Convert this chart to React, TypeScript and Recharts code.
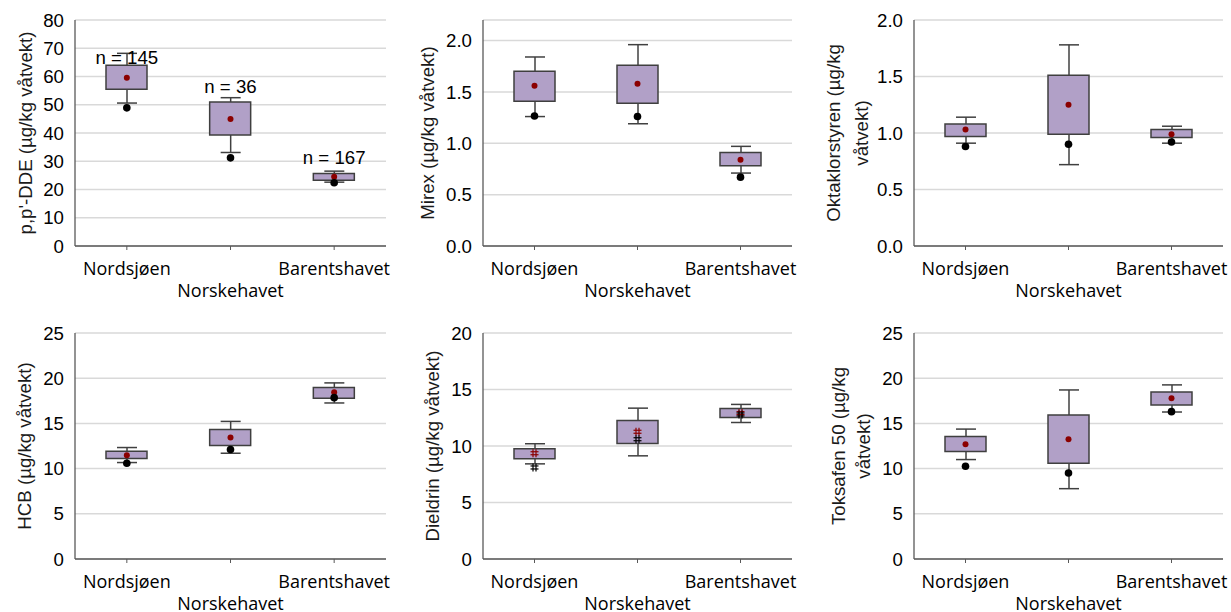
import React from 'react'
import { ComposedChart, XAxis, YAxis, CartesianGrid, Bar, Scatter } from 'recharts'

const regions = ['Nordsjøen', 'Norskehavet', 'Barentshavet']

// [nedre whisker, Q1, Q3, øvre whisker] per havområde
const ddeBox = [[50.6, 55.5, 64.0, 68.2], [33.1, 39.3, 51.0, 52.5], [22.6, 23.3, 25.7, 26.5]]
const ddeMean = [59.6, 45.0, 24.5]
const ddeDot = [48.9, 31.2, 22.4]
const ddeN = [145, 36, 167]
const ddeNAt = [66.8, 56.3, 31.3]

const mirexBox = [[1.26, 1.41, 1.70, 1.84], [1.19, 1.39, 1.76, 1.96], [0.71, 0.78, 0.91, 0.97]]
const mirexMean = [1.56, 1.58, 0.84]
const mirexDot = [1.265, 1.26, 0.67]

const oktaBox = [[0.91, 0.97, 1.08, 1.14], [0.72, 0.99, 1.51, 1.78], [0.91, 0.96, 1.03, 1.06]]
const oktaMean = [1.03, 1.25, 0.99]
const oktaDot = [0.88, 0.90, 0.92]

const hcbBox = [[10.67, 11.11, 11.92, 12.33], [11.7, 12.55, 14.33, 15.22], [17.26, 17.78, 18.96, 19.48]]
const hcbMean = [11.48, 13.44, 18.44]
const hcbDot = [10.59, 12.11, 17.85]

const dieldrinBox = [[8.42, 8.87, 9.75, 10.2], [9.13, 10.22, 12.26, 13.35], [12.08, 12.53, 13.32, 13.68]]
const dieldrinMean = [9.36, 11.26, 12.91]
const dieldrinDot = [8.1, 10.6, 12.79]

const toksBox = [[11.0, 11.89, 13.56, 14.37], [7.78, 10.59, 15.93, 18.7], [16.26, 17.04, 18.48, 19.26]]
const toksMean = [12.7, 13.26, 17.78]
const toksDot = [10.26, 9.52, 16.3]

const ticks80 = [0, 10, 20, 30, 40, 50, 60, 70, 80]
const ticks2 = [0, 0.5, 1.0, 1.5, 2.0]
const ticks25 = [0, 5, 10, 15, 20, 25]
const ticks20 = [0, 5, 10, 15, 20]

const ARIAL = '"Liberation Sans", Arial, sans-serif'
const UI = '"Open Sans", "Noto Sans", sans-serif'
const FRAME = '#595959'

const makeRows = (box: number[][], mean: number[], dot: number[], n?: number[], nAt?: number[]) =>
  regions.map((cat, i) => ({
    cat,
    whisk: [box[i][0], box[i][3]],
    box: [box[i][1], box[i][2]],
    mean: mean[i],
    dot: dot[i],
    n: n ? n[i] : undefined,
    nAt: nAt ? nAt[i] : undefined,
  }))

const Whisker = (p: any) => {
  const top = Math.min(p.y, p.y + p.height)
  const bot = Math.max(p.y, p.y + p.height)
  const cx = p.x + p.width / 2
  return (
    <g stroke="#404040" strokeWidth={1.5}>
      <line x1={cx} x2={cx} y1={top} y2={bot} />
      <line x1={p.x} x2={p.x + p.width} y1={top} y2={top} />
      <line x1={p.x} x2={p.x + p.width} y1={bot} y2={bot} />
    </g>
  )
}

const Hash = ({ cx, cy, color }: any) => (
  <g stroke={color} strokeWidth={1.2}>
    <line x1={cx - 4} x2={cx + 4} y1={cy - 1.5} y2={cy - 1.5} />
    <line x1={cx - 4} x2={cx + 4} y1={cy + 1.5} y2={cy + 1.5} />
    <line x1={cx - 1.5} x2={cx - 1.5} y1={cy - 4} y2={cy + 4} />
    <line x1={cx + 1.5} x2={cx + 1.5} y1={cy - 4} y2={cy + 4} />
  </g>
)

const RegionTick = (p: any) => (
  <text x={p.x} y={p.y + (p.index === 1 ? 40 : 18)} textAnchor="middle" dominantBaseline="central"
        fontFamily={UI} fontSize={18} fill="#000">{p.payload.value}</text>
)

type PanelProps = {
  rows: any[]; domain: [number, number]; ticks: number[]; decimals: number
  title: string[]; titleX: number[]
  left: number; top: number; width: number
  plotLeft: number; plotRight: number; plotTop: number
  hash?: boolean; showN?: boolean
}

const Panel: React.FC<PanelProps> = (p) => {
  const height = 306
  const plotH = 226
  const xAxisH = height - p.plotTop - plotH
  return (
    <div style={{ position: 'absolute', left: p.left, top: p.top }}>
      <ComposedChart width={p.width} height={height} data={p.rows}
                     margin={{ top: p.plotTop, right: p.width - p.plotRight, bottom: 0, left: p.plotLeft - 50 }}>
        <CartesianGrid vertical={false} stroke="#d9d9d9" strokeWidth={1.5} />
        <XAxis dataKey="cat" interval={0} padding={{ left: 0, right: 0 }} height={xAxisH}
               tickSize={4} tickMargin={0} tickLine={{ stroke: FRAME }}
               axisLine={{ stroke: FRAME, strokeWidth: 1.3 }} tick={<RegionTick />} />
        <XAxis xAxisId="top" dataKey="cat" orientation="top" height={0} tick={false} tickLine={false}
               axisLine={{ stroke: FRAME, strokeWidth: 1.3 }} />
        <YAxis type="number" domain={p.domain} ticks={p.ticks} width={50} interval={0}
               tickLine={false} tickSize={0} tickMargin={11}
               axisLine={{ stroke: FRAME, strokeWidth: 1.3 }}
               tickFormatter={(v: number) => v.toFixed(p.decimals)}
               tick={{ fill: '#000', fontSize: 18.67, fontFamily: ARIAL }}
               label={{
                 position: 'insideLeft',
                 content: (lp: any) => {
                   const vb = lp.viewBox
                   const cy = vb.y + vb.height / 2
                   return (
                     <g>
                       {p.title.map((t, i) => (
                         <text key={i} x={p.titleX[i]} y={cy} transform={`rotate(-90 ${p.titleX[i]} ${cy})`}
                               textAnchor="middle" dominantBaseline="central"
                               fontFamily={ARIAL} fontSize={18.67} fill="#1a1a1a">{t}</text>
                       ))}
                     </g>
                   )
                 },
               }} />
        <YAxis yAxisId="r" orientation="right" width={0} tick={false} tickLine={false}
               axisLine={{ stroke: FRAME, strokeWidth: 1.3 }} />
        <Bar xAxisId="top" dataKey="whisk" barSize={20} shape={<Whisker />} isAnimationActive={false} />
        <Bar dataKey="box" barSize={41} fill="#b1a0c7" stroke="#3f3f3f" strokeWidth={1.5}
             isAnimationActive={false} />
        <Scatter dataKey="mean" isAnimationActive={false}
                 shape={(s: any) => p.hash
                   ? <Hash cx={s.cx} cy={s.cy} color="#8b0000" />
                   : <circle cx={s.cx} cy={s.cy} r={3} fill="#8b0000" />} />
        <Scatter dataKey="dot" isAnimationActive={false}
                 shape={(s: any) => p.hash
                   ? <Hash cx={s.cx} cy={s.cy} color="#000" />
                   : <circle cx={s.cx} cy={s.cy} r={3.8} fill="#000" />} />
        {p.showN && (
          <Scatter dataKey="nAt" isAnimationActive={false}
                   shape={(s: any) => (
                     <text x={s.cx} y={s.cy} textAnchor="middle" dominantBaseline="central"
                           fontFamily={ARIAL} fontSize={18.67} fill="#000">{`n = ${s.payload.n}`}</text>
                   )} />
        )}
      </ComposedChart>
    </div>
  )
}

export default function App() {
  return (
    <div style={{ position: 'absolute', left: 0, top: 0, width: 1231, height: 612, background: '#fff' }}>
      <Panel rows={makeRows(ddeBox, ddeMean, ddeDot, ddeN, ddeNAt)} domain={[0, 80]} ticks={ticks80} decimals={0}
             title={["p,p'-DDE (µg/kg våtvekt)"]} titleX={[25]}
             left={0} top={0} width={410} plotLeft={75} plotRight={386} plotTop={20} showN />
      <Panel rows={makeRows(mirexBox, mirexMean, mirexDot)} domain={[0, 2.2]} ticks={ticks2} decimals={1}
             title={['Mirex (µg/kg våtvekt)']} titleX={[17]}
             left={410} top={0} width={410} plotLeft={73} plotRight={382} plotTop={20} />
      <Panel rows={makeRows(oktaBox, oktaMean, oktaDot)} domain={[0, 2]} ticks={ticks2} decimals={1}
             title={['Oktaklorstyren (µg/kg', 'våtvekt)']} titleX={[13, 41]}
             left={820} top={0} width={411} plotLeft={94} plotRight={403} plotTop={20} />
      <Panel rows={makeRows(hcbBox, hcbMean, hcbDot)} domain={[0, 25]} ticks={ticks25} decimals={0}
             title={['HCB (µg/kg våtvekt)']} titleX={[24]}
             left={0} top={306} width={410} plotLeft={75} plotRight={386} plotTop={27} />
      <Panel rows={makeRows(dieldrinBox, dieldrinMean, dieldrinDot)} domain={[0, 20]} ticks={ticks20} decimals={0}
             title={['Dieldrin (µg/kg våtvekt)']} titleX={[22]}
             left={410} top={306} width={410} plotLeft={73} plotRight={382} plotTop={27} hash />
      <Panel rows={makeRows(toksBox, toksMean, toksDot)} domain={[0, 25]} ticks={ticks25} decimals={0}
             title={['Toksafen 50 (µg/kg', 'våtvekt)']} titleX={[18, 43]}
             left={820} top={306} width={411} plotLeft={94} plotRight={403} plotTop={27} />
    </div>
  )
}
